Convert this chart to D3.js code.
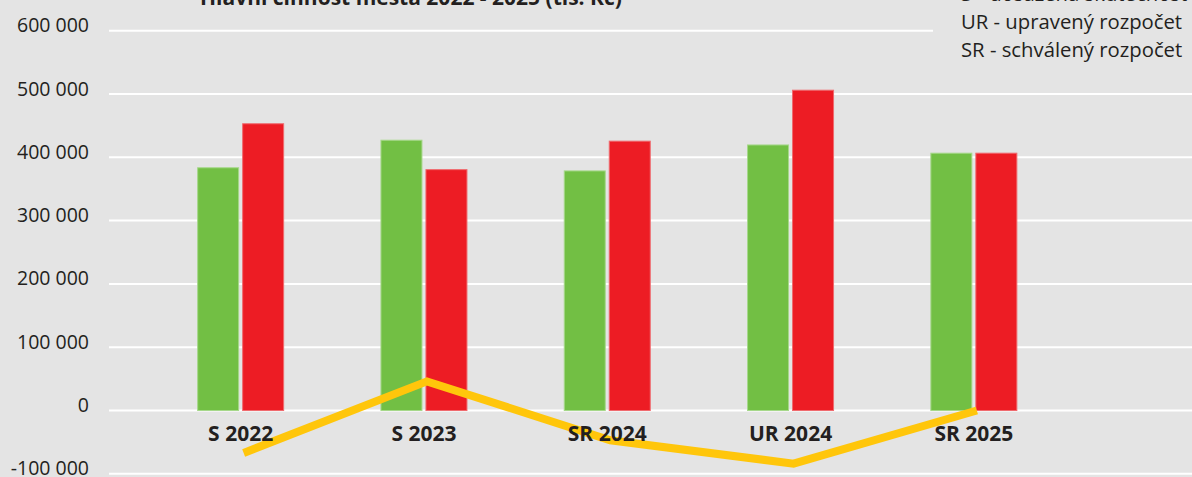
<!DOCTYPE html>
<html>
<head>
<meta charset="utf-8">
<script src="https://cdn.jsdelivr.net/npm/d3@7"></script>
<style>
  html, body { margin: 0; padding: 0; background: #e4e4e4; }
  svg { display: block; font-family: "Open Sans", sans-serif; }
</style>
</head>
<body>
<svg id="chart" width="1192" height="477"></svg>
<script>
// data (tis. Kč)
const categories = ["S 2022", "S 2023", "SR 2024", "UR 2024", "SR 2025"];
const prijmy = [383500, 427000, 378500, 419500, 406500];   // green
const vydaje = [453000, 380500, 425500, 506000, 406500];   // red
const saldo = [-67000, 46000, -47000, -84000, 0];           // yellow line
const yTicks = [-100000, 0, 100000, 200000, 300000, 400000, 500000, 600000];
const legendLines = ["S - dosažená skutečnost", "UR - upravený rozpočet", "SR - schválený rozpočet"];
const title = "Hlavní činnost města 2022 - 2025 (tis. Kč)";

const width = 1192, height = 477;
const svg = d3.select("#chart");

svg.append("rect").attr("width", width).attr("height", height).attr("fill", "#e4e4e4");

const x = d3.scaleBand().domain(categories).range([149, 1065.5]).paddingInner(0).paddingOuter(0);
const y = d3.scaleLinear().domain([-100000, 600000]).range([473.8, 30.7]);

const barW = 41, gap = 4;
const fmt = (v) => d3.format(",")(v).replace(/,/g, " ").replace("−", "-");

// gridlines
svg.append("g").selectAll("line").data(yTicks).enter().append("line")
  .attr("x1", 109).attr("x2", width)
  .attr("y1", (d) => y(d)).attr("y2", (d) => y(d))
  .attr("stroke", "#ffffff").attr("stroke-width", 2);

// y tick labels
svg.append("g").selectAll("text").data(yTicks).enter().append("text")
  .attr("x", 89).attr("y", (d) => y(d) + 1.5)
  .attr("text-anchor", "end")
  .attr("font-size", 19.5).attr("fill", "#231f20")
  .text((d) => fmt(d));

// bars
const groups = svg.append("g").selectAll("g").data(categories).enter().append("g");
groups.append("rect")
  .attr("x", (d) => x(d) + x.bandwidth() / 2 - gap / 2 - barW)
  .attr("y", (d, i) => y(prijmy[i]))
  .attr("width", barW)
  .attr("height", (d, i) => y(0) - y(prijmy[i]))
  .attr("fill", "#72bf44").attr("stroke", "#a6d88a").attr("stroke-width", 1);
groups.append("rect")
  .attr("x", (d) => x(d) + x.bandwidth() / 2 + gap / 2)
  .attr("y", (d, i) => y(vydaje[i]))
  .attr("width", barW)
  .attr("height", (d, i) => y(0) - y(vydaje[i]))
  .attr("fill", "#ed1c24").attr("stroke", "#f06a6e").attr("stroke-width", 1);

// balance line
const line = d3.line()
  .x((d, i) => x(categories[i]) + x.bandwidth() / 2 + 3)
  .y((d) => y(d));
svg.append("path").datum(saldo)
  .attr("d", line)
  .attr("fill", "none")
  .attr("stroke", "#ffc60b")
  .attr("stroke-width", 8)
  .attr("stroke-linejoin", "miter")
  .attr("stroke-linecap", "butt");

// category labels
svg.append("g").selectAll("text").data(categories).enter().append("text")
  .attr("x", (d) => x(d) + x.bandwidth() / 2)
  .attr("y", 441)
  .attr("text-anchor", "middle")
  .attr("font-size", 21).attr("font-weight", "bold").attr("fill", "#231f20")
  .text((d) => d);

// title
svg.append("text")
  .attr("x", 411).attr("y", 5)
  .attr("text-anchor", "middle")
  .attr("font-size", 21).attr("font-weight", "bold").attr("fill", "#231f20")
  .text(title);

// legend box
svg.append("rect").attr("x", 933).attr("y", 0).attr("width", width - 933).attr("height", 66)
  .attr("fill", "#e4e4e4");
svg.append("g").selectAll("text").data(legendLines).enter().append("text")
  .attr("x", 961).attr("y", (d, i) => 1 + i * 28.2)
  .attr("font-size", 20.3).attr("fill", "#231f20")
  .text((d) => d);
</script>
</body>
</html>
